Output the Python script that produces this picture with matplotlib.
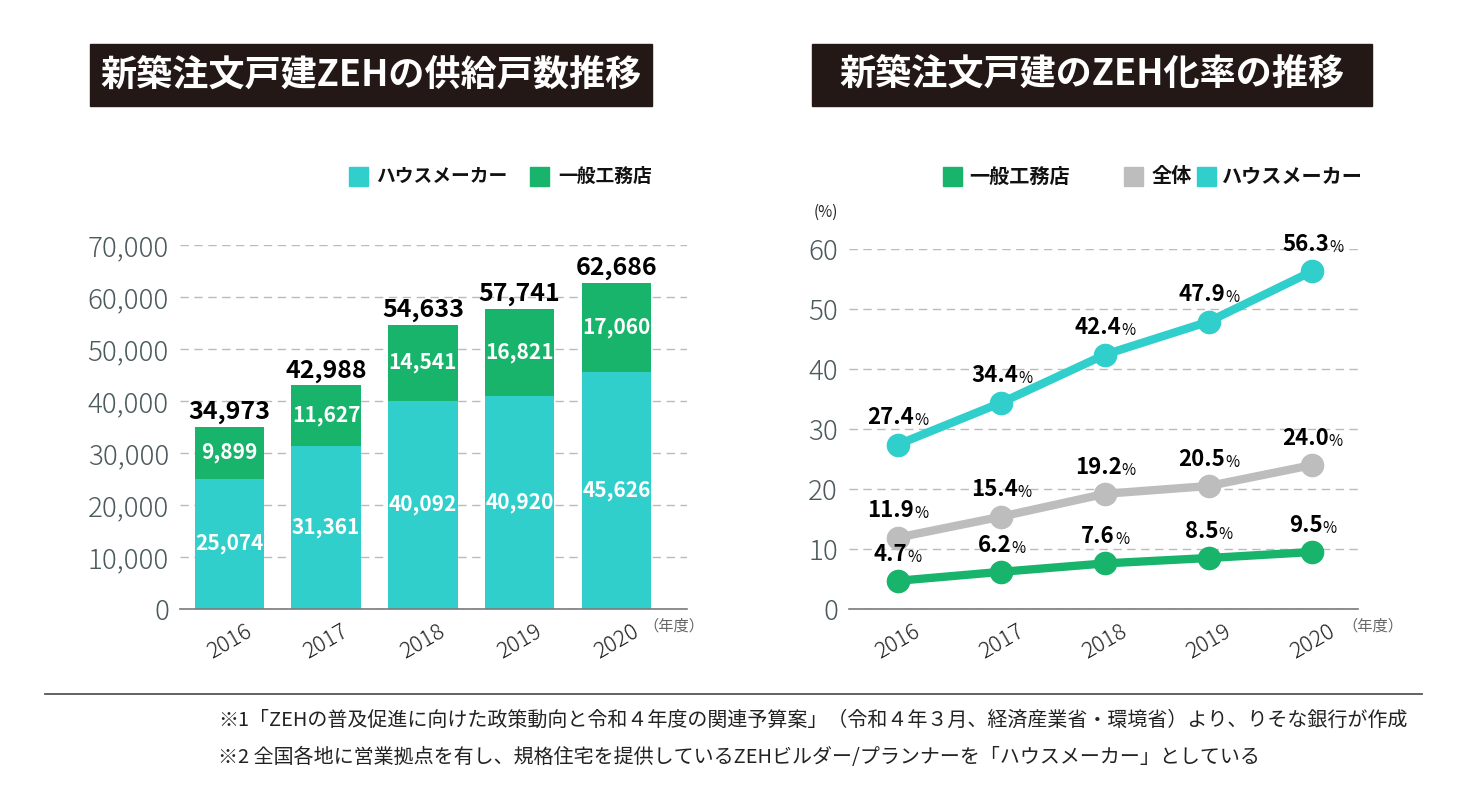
import matplotlib
matplotlib.use("Agg")
import matplotlib.pyplot as plt
from matplotlib.patches import Rectangle
from matplotlib.lines import Line2D

plt.rcParams['font.family'] = ['Noto Sans CJK JP', 'DejaVu Sans']

# data
years = ['2016', '2017', '2018', '2019', '2020']
maker_units = [25074, 31361, 40092, 40920, 45626]
builder_units = [9899, 11627, 14541, 16821, 17060]

builder_rate = [4.7, 6.2, 7.6, 8.5, 9.5]
total_rate = [11.9, 15.4, 19.2, 20.5, 24.0]
maker_rate = [27.4, 34.4, 42.4, 47.9, 56.3]

title_left = '新築注文戸建ZEHの供給戸数推移'
title_right = '新築注文戸建のZEH化率の推移'
notes = ['※1「ZEHの普及促進に向けた政策動向と令和４年度の関連予算案」（令和４年３月、経済産業省・環境省）より、りそな銀行が作成',
         '※2 全国各地に営業拠点を有し、規格住宅を提供しているZEHビルダー/プランナーを「ハウスメーカー」としている']

TEAL = '#31cfcc'
GREEN = '#18b46c'
GRAY = '#bdbdbd'
DARK = '#231815'
TICK = '#4b5a5c'

W, H = 1468, 795
fig = plt.figure(figsize=(W / 100, H / 100), dpi=100)


def fx(x):
    return x / W


def fy(y):
    return 1 - y / H


def style_axis(ax):
    for s in ['top', 'right', 'left']:
        ax.spines[s].set_visible(False)
    ax.spines['bottom'].set_color('#7a7a7a')
    ax.spines['bottom'].set_linewidth(1.2)
    ax.tick_params(length=0)
    ax.tick_params(axis='y', labelsize=20, labelcolor=TICK, pad=8)
    ax.tick_params(axis='x', labelsize=16, labelcolor='#222222', pad=8)
    for lab in ax.get_xticklabels():
        lab.set_rotation(30)
        lab.set_ha('center')
        lab.set_fontweight('light')
    for lab in ax.get_yticklabels():
        lab.set_fontweight('light')
    ax.grid(axis='y', color='#bbbbbb', linestyle=(0, (6, 4)), linewidth=1)
    ax.set_axisbelow(True)


# ---------------- left: stacked bars ----------------
ax1 = fig.add_axes([fx(180), fy(609), fx(687) - fx(180), fy(245) - fy(609)])
x = range(len(years))
ax1.bar(x, maker_units, width=0.72, color=TEAL)
ax1.bar(x, builder_units, width=0.72, bottom=maker_units, color=GREEN)
ax1.set_xlim(-0.51, 4.73)
ax1.set_ylim(0, 70000)
ax1.set_yticks(range(0, 70001, 10000))
ax1.set_yticklabels([f'{v:,}' for v in range(0, 70001, 10000)])
ax1.set_xticks(list(x))
ax1.set_xticklabels(years)
style_axis(ax1)

for i in x:
    m, b = maker_units[i], builder_units[i]
    ax1.text(i, m / 2, f'{m:,}', ha='center', va='center', color='white',
             fontsize=15, fontweight='bold')
    ax1.text(i, m + b / 2, f'{b:,}', ha='center', va='center', color='white',
             fontsize=15, fontweight='bold')
    ax1.annotate(f'{m + b:,}', (i, m + b), xytext=(0, 2), textcoords='offset points',
                 ha='center', va='bottom', fontsize=18, fontweight='bold', color='black')

# ---------------- right: lines ----------------
ax2 = fig.add_axes([fx(849), fy(609), fx(1358) - fx(849), fy(249) - fy(609)])
for vals, col in [(maker_rate, TEAL), (total_rate, GRAY), (builder_rate, GREEN)]:
    ax2.plot(list(range(len(years))), vals, color=col, linewidth=6, marker='o',
             markersize=16, solid_capstyle='round', zorder=3, clip_on=False)
    for i, v in enumerate(vals):
        t = ax2.annotate(f'{v:.1f}', (i, v), xytext=(-5, 11), textcoords='offset points',
                         ha='center', va='bottom', fontsize=16, fontweight='bold',
                         color='black', zorder=4)
        ax2.annotate('%', xy=(1, 0), xycoords=t, ha='left', va='bottom',
                     fontsize=11, color='black', zorder=4)
ax2.set_xlim(-0.47, 4.44)
ax2.set_ylim(0, 60)
ax2.set_yticks(range(0, 61, 10))
ax2.set_xticks(list(range(len(years))))
ax2.set_xticklabels(years)
style_axis(ax2)

# ---------------- titles ----------------
for x0, x1, txt in [(90, 652, title_left), (812, 1372, title_right)]:
    fig.patches.append(Rectangle((fx(x0), fy(106)), fx(x1) - fx(x0), fy(44) - fy(106),
                                 transform=fig.transFigure, color=DARK))
    fig.text(fx((x0 + x1) / 2), fy(75), txt, color='white', fontsize=26,
             fontweight='bold', ha='center', va='center')

# ---------------- legends ----------------
legend_items = [
    (349, 'ハウスメーカー', TEAL, 376, 13.5),
    (530, '一般工務店', GREEN, 558, 13.5),
    (943, '一般工務店', GREEN, 969, 14.5),
    (1124, '全体', GRAY, 1152, 14.5),
    (1197, 'ハウスメーカー', TEAL, 1222, 14.5),
]
for sx, label, col, tx, fs in legend_items:
    fig.patches.append(Rectangle((fx(sx), fy(186)), fx(19), 19 / H,
                                 transform=fig.transFigure, color=col))
    fig.text(fx(tx), fy(176), label, fontsize=fs, fontweight='bold',
             ha='left', va='center', color='#111111')

fig.text(fx(826), fy(212), '(%)', fontsize=11, ha='center', va='center', color='#222222')
fig.text(fx(643), fy(626), '（年度）', fontsize=11, ha='left', va='center', color='#666666')
fig.text(fx(1342), fy(626), '（年度）', fontsize=11, ha='left', va='center', color='#666666')

# ---------------- footer ----------------
fig.add_artist(Line2D([fx(45), fx(1422)], [fy(694), fy(694)], transform=fig.transFigure,
                      color='#555555', linewidth=1.3))
fig.text(fx(218), fy(720), notes[0], fontsize=14.4, ha='left', va='center', color='#222222')
fig.text(fx(218), fy(757), notes[1], fontsize=14.4, ha='left', va='center', color='#222222')

fig.savefig('out.png', dpi=100, facecolor='white')
